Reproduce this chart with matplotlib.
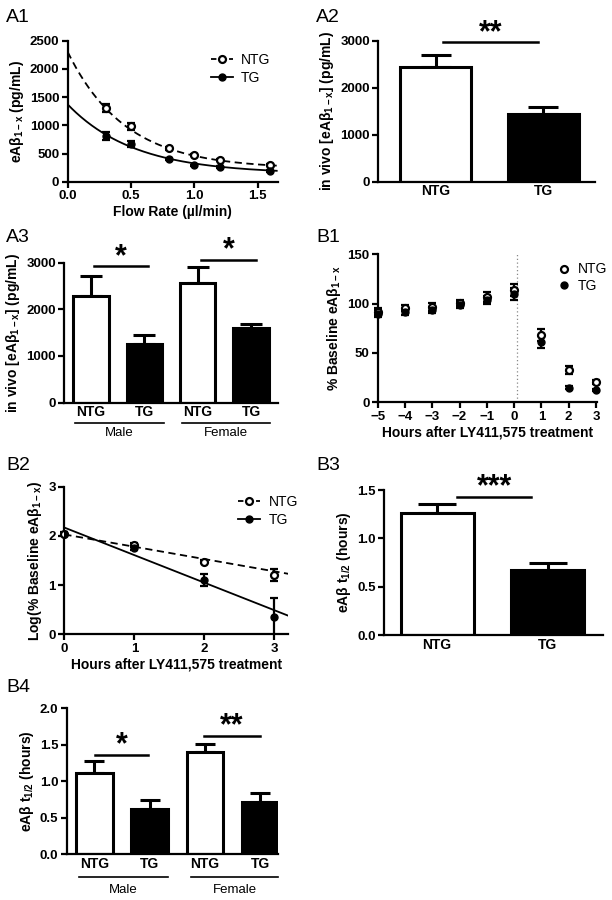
import matplotlib
matplotlib.use("Agg")
import matplotlib.pyplot as plt
import numpy as np

plt.rcParams.update({
    "font.family": ["Liberation Sans", "DejaVu Sans"],
    "font.size": 9,
    "axes.linewidth": 1.6,
    "xtick.major.width": 1.6,
    "ytick.major.width": 1.6,
    "xtick.major.size": 4,
    "ytick.major.size": 4,
    "mathtext.default": "regular",
})

# ---- A1: eAbeta vs flow rate ----
flow = [0.3, 0.5, 0.8, 1.0, 1.2, 1.6]
a1_ntg = [1300, 980, 590, 470, 390, 300]
a1_ntg_err = [70, 60, 25, 20, 15, 15]
a1_tg = [810, 670, 400, 290, 260, 185]
a1_tg_err = [70, 60, 20, 15, 15, 15]
# one-phase decay fits: A*exp(-k*x) + c
a1_ntg_fit = (2070, 2.2, 230)
a1_tg_fit = (1230, 1.9, 140)

# ---- A2 ----
a2_groups = ["NTG", "TG"]
a2_mean = [2440, 1430]
a2_err = [260, 150]

# ---- A3 ----
a3_groups = ["NTG", "TG", "NTG", "TG"]
a3_mean = [2290, 1250, 2570, 1610]
a3_err = [420, 200, 340, 80]

# ---- B1 ----
b1_hours = [-5, -4, -3, -2, -1, 0, 1, 2, 3]
b1_ntg = [92, 96, 97, 101, 107, 114, 68, 33, 21]
b1_ntg_err = [4, 3, 4, 3, 5, 6, 6, 4, 2]
b1_tg = [90, 92, 94, 99, 104, 110, 61, 15, 12]
b1_tg_err = [4, 3, 3, 3, 4, 6, 6, 2, 1]

# ---- B2 ----
b2_hours = [0, 1, 2, 3]
b2_ntg = [2.04, 1.81, 1.48, 1.20]
b2_ntg_err = [0.03, 0.04, 0.04, 0.12]
b2_tg = [2.04, 1.75, 1.10, 0.35]
b2_tg_err = [0.03, 0.04, 0.12, 0.38]
# linear fits: (intercept, slope)
b2_ntg_fit = (2.03, -0.25)
b2_tg_fit = (2.17, -0.56)

# ---- B3 ----
b3_groups = ["NTG", "TG"]
b3_mean = [1.26, 0.67]
b3_err = [0.10, 0.08]

# ---- B4 ----
b4_groups = ["NTG", "TG", "NTG", "TG"]
b4_mean = [1.12, 0.62, 1.40, 0.72]
b4_err = [0.16, 0.13, 0.11, 0.12]

sexes = ["Male", "Female"]

TICK_FS = 9.5
LABFONT = dict(fontsize=10, fontweight="bold")


def style_axes(ax, xfs=TICK_FS):
    ax.spines["top"].set_visible(False)
    ax.spines["right"].set_visible(False)
    ax.tick_params(direction="out", pad=2)
    for lab in ax.get_yticklabels():
        lab.set_fontsize(TICK_FS)
        lab.set_fontweight("bold")
    for lab in ax.get_xticklabels():
        lab.set_fontsize(xfs)
        lab.set_fontweight("bold")


def bar_panel(ax, groups, mean, err, capsize, width=0.66):
    x = np.arange(len(groups))
    colors = ["white" if g == "NTG" else "black" for g in groups]
    ax.bar(x, mean, width=width, color=colors, edgecolor="black",
           linewidth=2.2, zorder=2)
    ax.errorbar(x, mean, yerr=[np.zeros(len(err)), err], fmt="none",
                ecolor="black", elinewidth=2.2, capsize=capsize,
                capthick=2.2, zorder=1)
    ax.set_xticks(x)
    ax.set_xticklabels(groups)
    ax.tick_params(axis="x", length=0)
    return x


def sig(ax, x0, x1, y, text, dy, fs=22):
    ax.plot([x0, x1], [y, y], color="black", lw=1.8, clip_on=False)
    ax.text((x0 + x1) / 2, y + dy, text, ha="center", va="center",
            fontsize=fs, fontweight="bold", clip_on=False)


def sex_lines(ax, spans, ypos_line, ypos_text):
    for (x0, x1), name in zip(spans, sexes):
        ax.plot([x0, x1], [ypos_line, ypos_line], color="black", lw=1.2,
                transform=ax.get_xaxis_transform(), clip_on=False)
        ax.text((x0 + x1) / 2, ypos_text, name, ha="center", va="center",
                fontsize=9.5, transform=ax.get_xaxis_transform())


fig = plt.figure(figsize=(6.12, 9.0), dpi=100)

# ---------- A1 ----------
ax = fig.add_axes([0.1106, 0.7981, 0.3436, 0.1567])
xs = np.linspace(0, 1.65, 200)
A, k, c = a1_ntg_fit
ax.plot(xs, A * np.exp(-k * xs) + c, color="black", lw=1.3, ls=(0, (4, 2.5)))
A, k, c = a1_tg_fit
ax.plot(xs, A * np.exp(-k * xs) + c, color="black", lw=1.3)
ax.errorbar(flow, a1_ntg, yerr=a1_ntg_err, fmt="o", ms=5, mfc="white",
            mec="black", mew=1.6, ecolor="black", elinewidth=1.6, capsize=3,
            capthick=1.6, zorder=3)
ax.errorbar(flow, a1_tg, yerr=a1_tg_err, fmt="o", ms=5, mfc="black",
            mec="black", ecolor="black", elinewidth=1.6, capsize=3,
            capthick=1.6, zorder=3)
h1, = ax.plot([], [], color="black", lw=1.3, ls=(0, (3, 2)), marker="o",
              ms=5, mfc="white", mec="black", mew=1.6)
h2, = ax.plot([], [], color="black", lw=1.3, marker="o", ms=5, mfc="black")
ax.legend([h1, h2], ["NTG", "TG"], loc="upper left",
          bbox_to_anchor=(0.62, 1.0), frameon=False, fontsize=10,
          handlelength=1.6, handletextpad=0.6, labelspacing=0.3)
ax.set_xlim(0, 1.66)
ax.set_ylim(0, 2500)
ax.set_xticks([0, 0.5, 1.0, 1.5])
ax.set_xticklabels(["0.0", "0.5", "1.0", "1.5"])
ax.set_yticks([0, 500, 1000, 1500, 2000, 2500])
ax.set_xlabel("Flow Rate (\u00b5l/min)", labelpad=2, **LABFONT)
ax.set_ylabel("eA\u03b2$_{1-x}$ (pg/mL)", labelpad=3, **LABFONT)
style_axes(ax)

# ---------- A2 ----------
ax = fig.add_axes([0.6181, 0.7981, 0.3541, 0.1567])
bar_panel(ax, a2_groups, a2_mean, a2_err, capsize=10.5)
ax.set_xlim(-0.535, 1.48)
ax.set_ylim(0, 3000)
ax.set_yticks([0, 1000, 2000, 3000])
sig(ax, 0.07, 0.95, 2966, "**", 200)
ax.set_ylabel("in vivo [eA\u03b2$_{1-x}$] (pg/mL)", labelpad=3, **LABFONT)
style_axes(ax, xfs=10)

# ---------- A3 ----------
ax = fig.add_axes([0.1051, 0.5526, 0.3487, 0.1556])
bar_panel(ax, a3_groups, a3_mean, a3_err, capsize=8)
ax.set_xlim(-0.5, 3.5)
ax.set_ylim(0, 3000)
ax.set_yticks([0, 1000, 2000, 3000])
sig(ax, 0.06, 1.06, 2920, "*", 200)
sig(ax, 2.06, 3.1, 3057, "*", 200)
sex_lines(ax, [(-0.3, 1.36), (1.7, 3.35)], -0.148, -0.22)
ax.set_ylabel("in vivo [eA\u03b2$_{1-x}$] (pg/mL)", labelpad=3, **LABFONT)
style_axes(ax, xfs=10)

# ---------- B1 ----------
ax = fig.add_axes([0.6172, 0.553, 0.3588, 0.1644])
ax.axvline(0.12, color="#888888", lw=0.9, ls=(0, (1, 2)), zorder=0)
ax.errorbar(b1_hours, b1_ntg, yerr=b1_ntg_err, fmt="o", ms=5, mfc="white",
            mec="black", mew=1.6, ecolor="black", elinewidth=1.6, capsize=3,
            capthick=1.6, zorder=3, clip_on=False)
ax.errorbar(b1_hours, b1_tg, yerr=b1_tg_err, fmt="o", ms=5, mfc="black",
            mec="black", ecolor="black", elinewidth=1.6, capsize=3,
            capthick=1.6, zorder=3, clip_on=False)
h1, = ax.plot([], [], ls="none", marker="o", ms=5, mfc="white",
              mec="black", mew=1.6)
h2, = ax.plot([], [], ls="none", marker="o", ms=5, mfc="black", mec="black")
ax.legend([h1, h2], ["NTG", "TG"], loc="upper left",
          bbox_to_anchor=(0.76, 1.03), frameon=False, fontsize=10,
          handlelength=1.0, handletextpad=0.5, labelspacing=0.2)
ax.set_xlim(-5, 3.05)
ax.set_ylim(0, 150)
ax.set_xticks(b1_hours)
ax.set_yticks([0, 50, 100, 150])
ax.set_xlabel("Hours after LY411,575 treatment", labelpad=2, **LABFONT)
ax.set_ylabel("% Baseline eA\u03b2$_{1-x}$", labelpad=3, **LABFONT)
style_axes(ax)

# ---------- B2 ----------
ax = fig.add_axes([0.1051, 0.2952, 0.366, 0.164])
xs = np.linspace(0, 3.2, 50)
b0, m = b2_ntg_fit
ax.plot(xs, b0 + m * xs, color="black", lw=1.3, ls=(0, (4, 2.5)))
b0, m = b2_tg_fit
ax.plot(xs, b0 + m * xs, color="black", lw=1.3)
ax.errorbar(b2_hours, b2_ntg, yerr=b2_ntg_err, fmt="o", ms=5, mfc="white",
            mec="black", mew=1.6, ecolor="black", elinewidth=1.6, capsize=3,
            capthick=1.6, zorder=3, clip_on=False)
ax.errorbar(b2_hours, b2_tg, yerr=b2_tg_err, fmt="o", ms=5, mfc="black",
            mec="black", ecolor="black", elinewidth=1.6, capsize=3,
            capthick=1.6, zorder=3)
h1, = ax.plot([], [], color="black", lw=1.3, ls=(0, (3, 2)), marker="o",
              ms=5, mfc="white", mec="black", mew=1.6)
h2, = ax.plot([], [], color="black", lw=1.3, marker="o", ms=5, mfc="black")
ax.legend([h1, h2], ["NTG", "TG"], loc="upper left",
          bbox_to_anchor=(0.72, 1.03), frameon=False, fontsize=10,
          handlelength=1.6, handletextpad=0.6, labelspacing=0.3)
ax.set_xlim(0, 3.2)
ax.set_ylim(0, 3)
ax.set_xticks(b2_hours)
ax.set_yticks([0, 1, 2, 3])
ax.set_xlabel("Hours after LY411,575 treatment", labelpad=2, **LABFONT)
ax.set_ylabel("Log(% Baseline eA\u03b2$_{1-x}$)", labelpad=3, **LABFONT)
style_axes(ax)

# ---------- B3 ----------
ax = fig.add_axes([0.6275, 0.2944, 0.3578, 0.1611])
bar_panel(ax, b3_groups, b3_mean, b3_err, capsize=14)
ax.set_xlim(-0.48, 1.5)
ax.set_ylim(0, 1.5)
ax.set_yticks([0, 0.5, 1.0, 1.5])
ax.set_yticklabels(["0.0", "0.5", "1.0", "1.5"])
sig(ax, 0.18, 0.85, 1.43, "***", 0.1)
ax.set_ylabel("eA\u03b2 t$_{1/2}$ (hours)", labelpad=3, **LABFONT)
style_axes(ax, xfs=10)

# ---------- B4 ----------
ax = fig.add_axes([0.109, 0.0508, 0.3458, 0.1622])
bar_panel(ax, b4_groups, b4_mean, b4_err, capsize=7)
ax.set_xlim(-0.5, 3.33)
ax.set_ylim(0, 2.0)
ax.set_yticks([0, 0.5, 1.0, 1.5, 2.0])
ax.set_yticklabels(["0.0", "0.5", "1.0", "1.5", "2.0"])
sig(ax, 0.01, 0.98, 1.36, "*", 0.13)
sig(ax, 1.99, 2.99, 1.62, "**", 0.13)
sex_lines(ax, [(-0.28, 1.34), (1.75, 3.33)], -0.153, -0.245)
ax.set_ylabel("eA\u03b2 t$_{1/2}$ (hours)", labelpad=3, **LABFONT)
style_axes(ax, xfs=10)

# ---------- panel labels ----------
panel_labels = ["A1", "A2", "A3", "B1", "B2", "B3", "B4"]
label_pos = [(6, 17), (316, 17), (6, 238), (316, 237), (6, 465), (316, 465),
             (6, 688)]
for name, (px, py) in zip(panel_labels, label_pos):
    fig.text(px / 612, 1 - py / 900, name, ha="left", va="center",
             fontsize=14)

fig.savefig("out.png", dpi=100)
